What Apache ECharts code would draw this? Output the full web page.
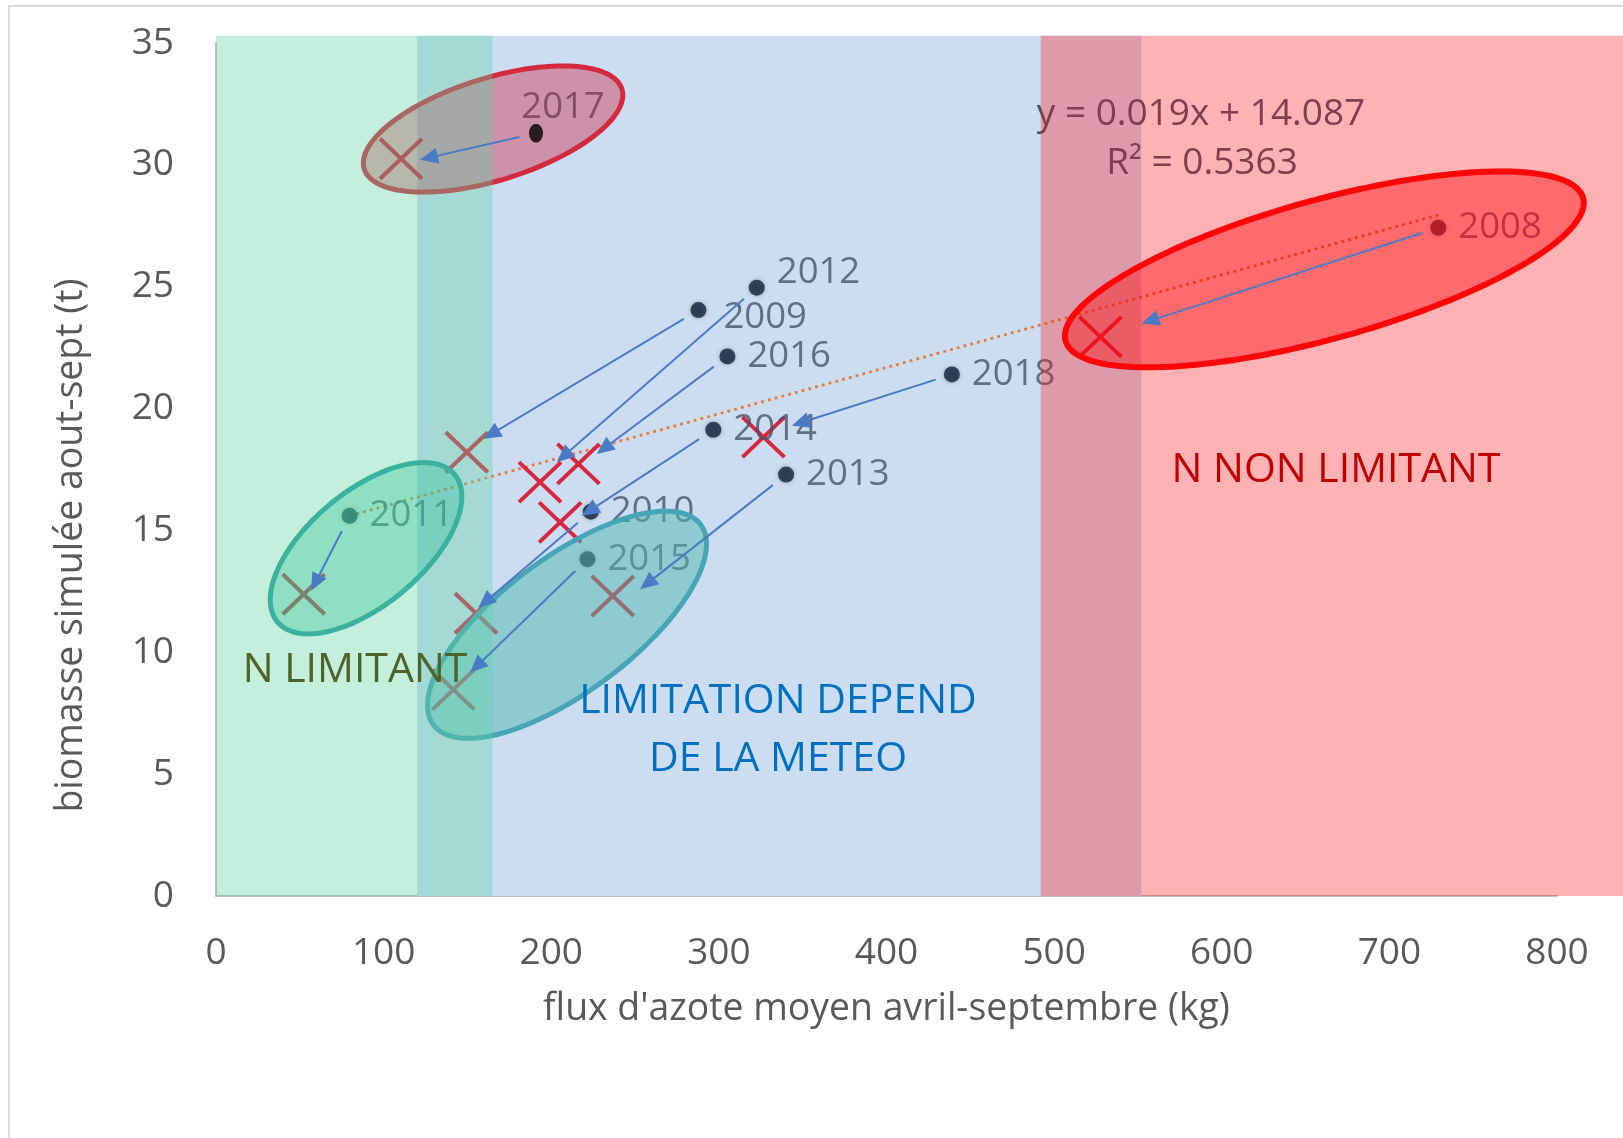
<!DOCTYPE html>
<html><head><meta charset="utf-8">
<script src="https://cdn.jsdelivr.net/npm/echarts@6/dist/echarts.min.js"></script>
<style>html,body{margin:0;padding:0;background:#fff}#c{width:1623px;height:1138px}</style>
</head><body><div id="c"></div>
<script>
// ---------------- DATA ----------------
const years = ['2008','2009','2010','2011','2012','2013','2014','2015','2016','2017','2018'];
// observed points: flux d'azote (kg) / biomasse (t)
const fluxN   = [729.2, 287.8, 223.6, 79.7, 322.6, 340.1, 296.7, 221.6, 305.1, 190.9, 439.0];
const biomass = [27.42, 24.04, 15.77, 15.60, 24.96, 17.29, 19.13, 13.82, 22.14, 31.30, 21.40];
// crosses (shifted points)
const crossFlux    = [527.6, 149.6, 155.1, 52.3, 193.3, 236.7, 205.3, 141.6, 216.2, 110.4, 326.6];
const crossBiomass = [22.94, 18.21, 11.60, 12.38, 16.98, 12.31, 15.33, 8.47, 17.73, 30.25, 18.83];
// arrow heads (end of each arrow)
const arrowTipFlux    = [552.1, 159.5, 156.5, 56.8, 203.3, 253.0, 218.2, 151.6, 227.1, 121.7, 343.5];
const arrowTipBiomass = [23.49, 18.76, 11.83, 12.52, 17.80, 12.59, 15.60, 9.16, 18.14, 30.21, 19.30];
const outlierYear = '2017';
// trendline as printed on the chart
const trendSlope = 0.019, trendIntercept = 14.087, trendR2 = 0.5363;
// axis ticks
const xTicks = [0, 100, 200, 300, 400, 500, 600, 700, 800];
const yTicks = [0, 5, 10, 15, 20, 25, 30, 35];
// zones (x ranges in kg) and their top (t)
const zoneGreen = [0, 165];
const zoneBlue  = [120, 552];
const zoneRed   = [492, 840];
const zoneTop   = 35.3;
// ellipses: centre, end of major axis, end of minor axis (data units)
const ellipseCenter   = [[165.3, 31.47], [661.2, 25.71], [89.5, 14.27], [209.4, 11.13]];
const ellipseMajorEnd = [[242.2, 33.10], [815.6, 28.64], [142.4, 17.29], [289.1, 15.24]];
const ellipseMinorEnd = [[174.0, 29.46], [672.1, 22.96], [111.1, 12.47], [233.3, 8.93]];
const zoneLabels = ['N LIMITANT', 'LIMITATION DEPEND', 'DE LA METEO', 'N NON LIMITANT'];
const xTitle = "flux d'azote moyen avril-septembre (kg)";
const yTitle = 'biomasse simulée aout-sept (t)';

// ---------------- STYLE / BUILD ----------------
const FONT = '"Open Sans", "DejaVu Sans", sans-serif';
const ellipseStyles = [
  {fill: 'rgba(200,20,50,0.37)', stroke: '#D42A3F', lw: 5},
  {fill: 'rgba(255,0,0,0.41)', stroke: '#FF0000', lw: 6},
  {fill: 'rgba(0,180,130,0.33)', stroke: '#28A09B', lw: 5},
  {fill: 'rgba(80,185,175,0.5)', stroke: '#47A5B5', lw: 5}
];
const labelTweaks = {'2012': [0, -15], '2009': [5, 7]};

const chart = echarts.init(document.getElementById('c'), null, {renderer: 'canvas'});

function zoneRender(fill) {
  return function (params, api) {
    const a = api.coord([api.value(0), api.value(2)]);
    const b = api.coord([api.value(1), 0]);
    return {type: 'rect', shape: {x: a[0], y: a[1], width: b[0] - a[0], height: b[1] - a[1]}, style: {fill: fill}};
  };
}

const pointData = years.map((y, i) => {
  const item = {name: y, value: [fluxN[i], biomass[i]]};
  if (y === outlierYear) {
    // marker of the outlier is drawn by its own series (on top); keep only its label here
    item.symbolSize = 0.01;
    item.itemStyle = {shadowBlur: 0};
    item.label = {position: 'inside', offset: [27, -26]};
  } else if (labelTweaks[y]) {
    item.label = {offset: labelTweaks[y]};
  }
  return item;
});
const outlierData = years.map((y, i) => [fluxN[i], biomass[i], y]).filter(d => d[2] === outlierYear);

const regX = fluxN.filter((v, i) => years[i] !== outlierYear);
const tMin = Math.min(...regX), tMax = Math.max(...regX);
const trendData = [[tMin, trendSlope * tMin + trendIntercept], [tMax, trendSlope * tMax + trendIntercept]];

const crossData = years.map((y, i) => [crossFlux[i], crossBiomass[i]]);
const arrowData = years.map((y, i) => [fluxN[i], biomass[i], arrowTipFlux[i], arrowTipBiomass[i]]);
const ellipseData = ellipseCenter.map((c, i) => [c[0], c[1], ellipseMajorEnd[i][0], ellipseMajorEnd[i][1], ellipseMinorEnd[i][0], ellipseMinorEnd[i][1]]);

function txt(x, y, s, color, size, z) {
  return {type: 'text', z: z, x: x, y: y, silent: true,
    style: {text: s, fill: color, font: size + 'px ' + FONT,
            align: 'center', verticalAlign: 'middle', textAlign: 'center', textVerticalAlign: 'middle'}};
}

const option = {
  backgroundColor: '#ffffff',
  animation: false,
  grid: {left: 216, top: 43, width: 1341, height: 853, containLabel: false},
  xAxis: {
    type: 'value', min: xTicks[0], max: xTicks[xTicks.length - 1], interval: xTicks[1] - xTicks[0],
    axisLine: {show: true, lineStyle: {color: '#BFBFBF', width: 2}},
    axisTick: {show: false}, splitLine: {show: false},
    axisLabel: {fontSize: 37, color: '#595959', fontFamily: FONT, margin: 39},
    name: xTitle, nameLocation: 'middle', nameGap: 95,
    nameTextStyle: {fontSize: 37.4, color: '#595959', fontFamily: FONT}
  },
  yAxis: {
    type: 'value', min: yTicks[0], max: yTicks[yTicks.length - 1], interval: yTicks[1] - yTicks[0],
    axisLine: {show: true, lineStyle: {color: '#BFBFBF', width: 2}},
    axisTick: {show: false}, splitLine: {show: false},
    axisLabel: {fontSize: 37, color: '#595959', fontFamily: FONT, margin: 42, padding: [8, 0, 0, 0]},
    name: yTitle, nameLocation: 'middle', nameGap: 126,
    nameTextStyle: {fontSize: 37.4, color: '#595959', fontFamily: FONT, padding: [0, 152, 0, 0]}
  },
  graphic: [
    {type: 'rect', z: -1, silent: true, shape: {x: 9, y: 6, width: 1700, height: 1200},
     style: {fill: 'none', stroke: '#D9D9D9', lineWidth: 2}},
    txt(1201, 114, 'y = ' + trendSlope + 'x + ' + trendIntercept, '#44546A', 37, 5),
    txt(1202, 163, 'R\u00B2 = ' + trendR2, '#44546A', 37, 5),
    txt(355, 670, zoneLabels[0], '#4F6228', 41, 20),
    txt(778, 701, zoneLabels[1], '#0070C0', 41, 20),
    txt(778, 759, zoneLabels[2], '#0070C0', 41, 20),
    txt(1336, 470, zoneLabels[3], '#C00000', 41, 20)
  ],
  series: [
    {type: 'custom', name: 'zoneBlue', z: 1, silent: true, clip: false,
     renderItem: zoneRender('#CDDDF1'), data: [[zoneBlue[0], zoneBlue[1], zoneTop]]},
    {type: 'line', name: 'trend', z: 2, silent: true, symbol: 'none', data: trendData,
     lineStyle: {color: '#E67C3A', width: 2.8, type: [2.8, 4.2]}},
    {type: 'custom', name: 'crosses', z: 3, silent: true, clip: false, data: crossData,
     renderItem: function (params, api) {
       const p = api.coord([api.value(0), api.value(1)]);
       const hx = 21, hy = 20;
       return {type: 'group', children: [
         {type: 'line', shape: {x1: p[0] - hx, y1: p[1] - hy, x2: p[0] + hx, y2: p[1] + hy}, style: {stroke: '#D7263D', lineWidth: 4}},
         {type: 'line', shape: {x1: p[0] - hx, y1: p[1] + hy, x2: p[0] + hx, y2: p[1] - hy}, style: {stroke: '#D7263D', lineWidth: 4}}
       ]};
     }},
    {type: 'scatter', name: 'points', z: 4, silent: true, symbol: 'circle', symbolSize: 16, data: pointData,
     itemStyle: {color: '#14233C', shadowBlur: 4, shadowColor: 'rgba(0,0,0,0.35)'},
     label: {show: true, position: 'right', distance: 12, formatter: '{b}', color: '#44546A', fontSize: 36.5, fontFamily: FONT}},
    {type: 'custom', name: 'ellipses', z: 7, silent: true, clip: false, data: ellipseData,
     renderItem: function (params, api) {
       const c = api.coord([api.value(0), api.value(1)]);
       const m = api.coord([api.value(2), api.value(3)]);
       const n = api.coord([api.value(4), api.value(5)]);
       const ax = m[0] - c[0], ay = m[1] - c[1], bx = n[0] - c[0], by = n[1] - c[1];
       const pts = [];
       for (let k = 0; k < 160; k++) {
         const t = k / 160 * 2 * Math.PI;
         pts.push([c[0] + ax * Math.cos(t) + bx * Math.sin(t), c[1] + ay * Math.cos(t) + by * Math.sin(t)]);
       }
       const st = ellipseStyles[params.dataIndex];
       return {type: 'polygon', shape: {points: pts}, style: {fill: st.fill, stroke: st.stroke, lineWidth: st.lw}};
     }},
    {type: 'custom', name: 'zoneGreen', z: 8, silent: true, clip: false,
     renderItem: zoneRender('rgba(94,210,160,0.36)'), data: [[zoneGreen[0], zoneGreen[1], zoneTop]]},
    {type: 'custom', name: 'zoneRed', z: 8, silent: true, clip: false,
     renderItem: zoneRender('rgba(255,14,21,0.32)'), data: [[zoneRed[0], zoneRed[1], zoneTop]]},
    {type: 'scatter', name: 'outlier', z: 10, silent: true, symbol: 'circle', symbolSize: [14, 19], data: outlierData,
     itemStyle: {color: '#000000'}},
    {type: 'custom', name: 'arrows', z: 10, silent: true, clip: false, data: arrowData,
     renderItem: function (params, api) {
       const p = api.coord([api.value(0), api.value(1)]);
       const q = api.coord([api.value(2), api.value(3)]);
       const dx = q[0] - p[0], dy = q[1] - p[1], L = Math.hypot(dx, dy), ux = dx / L, uy = dy / L;
       const s = [p[0] + ux * 17, p[1] + uy * 17];
       const hl = 18, hw = 8;
       const b = [q[0] - ux * hl, q[1] - uy * hl];
       return {type: 'group', children: [
         {type: 'line', shape: {x1: s[0], y1: s[1], x2: b[0] + ux * 3, y2: b[1] + uy * 3}, style: {stroke: '#4A7BC4', lineWidth: 2}},
         {type: 'polygon', shape: {points: [q, [b[0] - uy * hw, b[1] + ux * hw], [b[0] + uy * hw, b[1] - ux * hw]]}, style: {fill: '#4A7BC4'}}
       ]};
     }}
  ]
};
chart.setOption(option);
</script>
</body></html>
